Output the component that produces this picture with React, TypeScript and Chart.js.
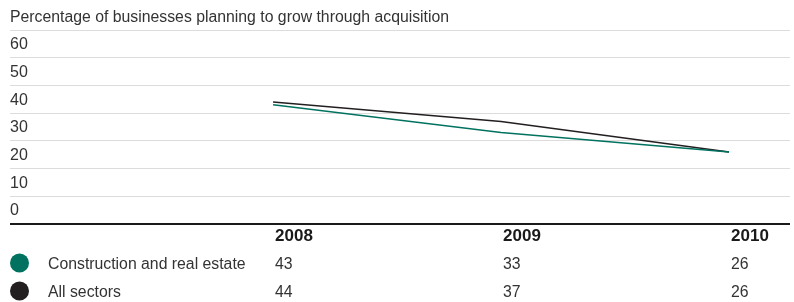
import React, { useEffect, useRef } from "react";
import { Chart, registerables } from "chart.js";

Chart.register(...registerables);

const years = [2008, 2009, 2010];
const seriesNames = ["Construction and real estate", "All sectors"];
const construction = [43, 33, 26];
const allSectors = [44, 37, 26];
const yTicks = [0, 10, 20, 30, 40, 50, 60, 70];
const subtitle = "Percentage of businesses planning to grow through acquisition";

const GREEN = "#00725f";
const BLACK = "#231f20";
const FONT = "Liberation Sans, Arial, sans-serif";

export default function App() {
  const ref = useRef<HTMLCanvasElement | null>(null);

  useEffect(() => {
    document.body.style.margin = "0";
    const canvas = ref.current!;
    const series = [construction, allSectors];
    const colors = [GREEN, BLACK];

    const tablePlugin = {
      id: "tablePlugin",
      afterDraw(chart: any) {
        const ctx = chart.ctx;
        const xs = chart.scales.x;
        ctx.save();
        ctx.fillStyle = "#333";
        ctx.textAlign = "left";
        ctx.textBaseline = "alphabetic";
        ctx.font = `15.8px ${FONT}`;
        ctx.fillText(subtitle, 10, 22);

        ctx.font = `bold 17px ${FONT}`;
        ctx.fillStyle = "#1a1a1a";
        years.forEach((y) => {
          ctx.fillText(String(y), xs.getPixelForValue(y) + 2, 241);
        });

        const baselines = [269, 297];
        series.forEach((vals, i) => {
          const b = baselines[i];
          ctx.fillStyle = colors[i];
          ctx.beginPath();
          ctx.arc(19.5, b - 6, 9.5, 0, Math.PI * 2);
          ctx.fill();
          ctx.fillStyle = "#333";
          ctx.font = `15.8px ${FONT}`;
          ctx.fillText(seriesNames[i], 48, b);
          vals.forEach((v, j) => {
            ctx.fillText(String(v), xs.getPixelForValue(years[j]) + 2, b);
          });
        });
        ctx.restore();
      },
    };

    const chart = new Chart(canvas, {
      type: "line",
      data: {
        datasets: [
          {
            label: seriesNames[0],
            data: years.map((y, i) => ({ x: y, y: construction[i] })),
            borderColor: GREEN,
            borderWidth: 1.5,
            pointRadius: 0,
            tension: 0,
          },
          {
            label: seriesNames[1],
            data: years.map((y, i) => ({ x: y, y: allSectors[i] })),
            borderColor: BLACK,
            borderWidth: 1.5,
            pointRadius: 0,
            tension: 0,
          },
        ],
      },
      options: {
        animation: false,
        responsive: false,
        devicePixelRatio: 1,
        layout: { padding: { left: 10, right: 4, top: 30, bottom: 78 } },
        plugins: { legend: { display: false }, tooltip: { enabled: false } },
        scales: {
          x: {
            type: "linear",
            min: 2006.846,
            max: 2010.2675,
            display: false,
          },
          y: {
            min: 0,
            max: 70,
            afterBuildTicks(scale: any) {
              scale.ticks = yTicks.map((v) => ({ value: v }));
            },
            afterFit(scale: any) {
              scale.width = 0;
            },
            border: { display: false },
            grid: {
              drawTicks: false,
              color: (c: any) => (c.tick && c.tick.value === 0 ? "#1a1a1a" : "#dcdcdc"),
              lineWidth: (c: any) => (c.tick && c.tick.value === 0 ? 2 : 1),
            },
            ticks: {
              mirror: true,
              padding: 0,
              labelOffset: -13,
              color: "#333",
              font: { family: FONT, size: 16 },
              callback: (v: any) => (v === 70 ? "" : String(v)),
            },
          },
        },
      },
      plugins: [tablePlugin],
    });
    return () => chart.destroy();
  }, []);

  return (
    <div style={{ position: "absolute", left: 0, top: 0, width: 794, height: 302, background: "#fff" }}>
      <canvas ref={ref} width={794} height={302} style={{ width: 794, height: 302 }} />
    </div>
  );
}
